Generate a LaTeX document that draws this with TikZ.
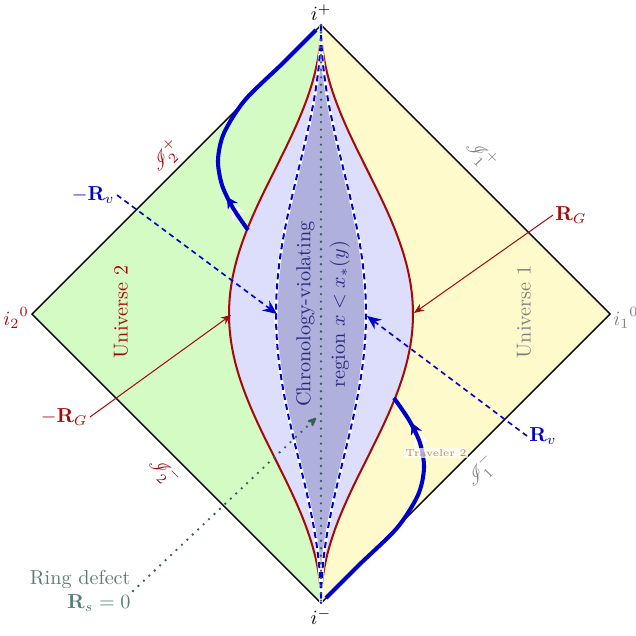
\documentclass[tikz,border=0pt]{standalone}
\usepackage{mathrsfs}
\usetikzlibrary{arrows.meta}
\definecolor{dred}{RGB}{165,10,10}
\definecolor{grn}{RGB}{212,251,196}
\definecolor{ylw}{RGB}{255,250,204}
\definecolor{lav}{RGB}{220,222,252}
\definecolor{lavd}{RGB}{175,177,220}
\definecolor{bl}{RGB}{0,0,200}
\definecolor{navy}{RGB}{40,40,125}
\definecolor{teal1}{RGB}{55,95,85}
\definecolor{teal2}{RGB}{90,125,120}
\definecolor{tan1}{RGB}{190,135,85}
\tikzset{
  edge/.style={draw=black,line width=0.7pt},
  redc/.style={draw=dred,line width=1pt},
  inwhite/.style={draw=white,line width=1.6pt},
  indash/.style={draw=bl,line width=1pt,dash pattern=on 3pt off 2pt},
  cdot/.style={draw=teal1,line width=1.3pt,line cap=round,dash pattern=on 0pt off 3.7pt},
  trav/.style={draw=bl,line width=2pt},
  thead/.style={draw=white,line width=0.3pt,-{Stealth[length=7.5pt,width=8pt,inset=2.5pt,fill=white]}},
  bhead/.style={draw=bl,line width=0.3pt,-{Stealth[length=5.5pt,width=6pt,inset=1.8pt,fill=bl]}},
  bdash/.style={draw=bl,line width=0.8pt,dash pattern=on 2.6pt off 2pt,-{Stealth[length=7pt,width=6pt]}},
  rarr/.style={draw=dred,line width=0.5pt,-{Stealth[length=5pt,width=4pt]}},
  lbl/.style={inner sep=1pt},
}
\begin{document}
\begin{tikzpicture}[x=0.495pt,y=-0.495pt]
\useasboundingbox (0,0) rectangle (636,635);
\coordinate (T) at (321,25);
\coordinate (B) at (321,603);
\coordinate (L) at (32,314);
\coordinate (R) at (610,314);
% region fills
\fill[grn] (T) -- (L) -- (B) -- cycle;
\fill[ylw] (T) -- (R) -- (B) -- cycle;
\fill[lav] plot[variable=\t,domain=0:180,samples=120] ({321-92*sin(\t)*sin(\t)},{25+3.21111*\t})
  -- plot[variable=\t,domain=180:0,samples=120] ({321+92*sin(\t)*sin(\t)},{25+3.21111*\t}) -- cycle;
\fill[lavd] plot[variable=\t,domain=0:180,samples=120] ({321-45*sin(\t)*sin(\t)},{25+3.21111*\t})
  -- plot[variable=\t,domain=180:0,samples=120] ({321+45*sin(\t)*sin(\t)},{25+3.21111*\t}) -- cycle;
% diamond edges
\draw[edge] (T) -- (R) -- (B) -- (L) -- cycle;
% red boundary
\draw[redc] plot[variable=\t,domain=0:180,samples=120] ({321-92*sin(\t)*sin(\t)},{25+3.21111*\t});
\draw[redc] plot[variable=\t,domain=0:180,samples=120] ({321+92*sin(\t)*sin(\t)},{25+3.21111*\t});
% inner dashed boundary
\draw[inwhite] plot[variable=\t,domain=0:180,samples=120] ({321-45*sin(\t)*sin(\t)},{25+3.21111*\t});
\draw[inwhite] plot[variable=\t,domain=0:180,samples=120] ({321+45*sin(\t)*sin(\t)},{25+3.21111*\t});
\draw[indash] plot[variable=\t,domain=0:180,samples=120] ({321-45*sin(\t)*sin(\t)},{25+3.21111*\t});
\draw[indash] plot[variable=\t,domain=0:180,samples=120] ({321+45*sin(\t)*sin(\t)},{25+3.21111*\t});
% ring defect line
\draw[cdot] (T) -- (B);
% traveler 1 (left)
\coordinate (ta0) at (243,222);
\coordinate (ta1) at (231,204);
\coordinate (ta2) at (227,197);
\draw[thead] (ta0) -- (ta1);
\draw[trav] plot[smooth] coordinates {(248,230) (233,208) (222,185) (218,160) (224,133) (245,100) (283,63) (316,30)};
\draw[bhead] (ta0) -- (ta2);
% traveler 2 (right)
\coordinate (tb0) at (422,446);
\coordinate (tb1) at (416,431);
\coordinate (tb2) at (412,423);
\draw[thead] (tb0) -- (tb1);
\draw[trav] plot[smooth] coordinates {(326,598) (359,565) (397,528) (418,495) (424,468) (420,443) (409,420) (394,398)};
\draw[bhead] (tb0) -- (tb2);
\node[fill=white,fill opacity=0.7,text opacity=1,text=tan1,inner sep=0.8pt,font=\tiny] (trv) at (436,453) {Traveler 2};
% corner labels
\node[lbl,anchor=south] (ip) at (321,23) {$i^+$};
\node[lbl,anchor=north] (im) at (321,606) {$i^-$};
\node[lbl,anchor=east,text=dred] (i2) at (31,318) {${i_2}^0$};
\node[lbl,anchor=west,text=gray] (i1) at (611,318) {${i_1}^0$};
% scri labels
\node[text=dred,rotate=45,inner sep=0pt] (s2p) at (166,156) {$\mathscr{I}_2^+$};
\node[text=gray,rotate=-45,inner sep=0pt] (s1p) at (481,155) {$\mathscr{I}_1^+$};
\node[text=dred,rotate=-45,inner sep=0pt] (s2m) at (164,472) {$\mathscr{I}_2^-$};
\node[text=gray,rotate=45,inner sep=0pt] (s1m) at (481,471) {$\mathscr{I}_1^-$};
% universe labels
\node[text=dred,rotate=90] (u2) at (121,312) {Universe 2};
\node[text=gray,rotate=90] (u1) at (524,312) {Universe 1};
% chronology label
\node[text=navy,rotate=90,align=center,inner sep=0pt,font={\fontsize{10}{17}\selectfont}] (cv) at (323,314)
  {Chronology-violating\\ region $x<x_*(y)$};
% R_v arrows
\node[lbl,text=bl,anchor=east] (mrv) at (117,195) {$-\mathbf{R}_v$};
\coordinate (mrvtip) at (277,314);
\draw[bdash] (mrv.east) -- (mrvtip);
\node[lbl,text=bl,anchor=west] (rv) at (527,436) {$\mathbf{R}_v$};
\coordinate (rvtip) at (367,316);
\draw[bdash] (rv.west) -- (rvtip);
% R_G arrows
\node[lbl,text=dred,anchor=west] (rg) at (553,215) {$\mathbf{R}_G$};
\coordinate (rgtip) at (414,313);
\draw[rarr] (rg.west) -- (rgtip);
\node[lbl,text=dred,anchor=east] (mrg) at (90,417) {$-\mathbf{R}_G$};
\coordinate (mrgtip) at (231,315);
\draw[rarr] (mrg.east) -- (mrgtip);
% ring defect
\node[text=teal2,align=right,anchor=east,inner sep=1pt] (rd) at (133,591)
  {Ring defect\\ $\mathbf{R}_s=0$};
\coordinate (rdtip) at (316,418);
\draw[cdot,-{Stealth[length=6pt,width=5pt,round]}] (rd.east) -- (rdtip);
\end{tikzpicture}
\end{document}
